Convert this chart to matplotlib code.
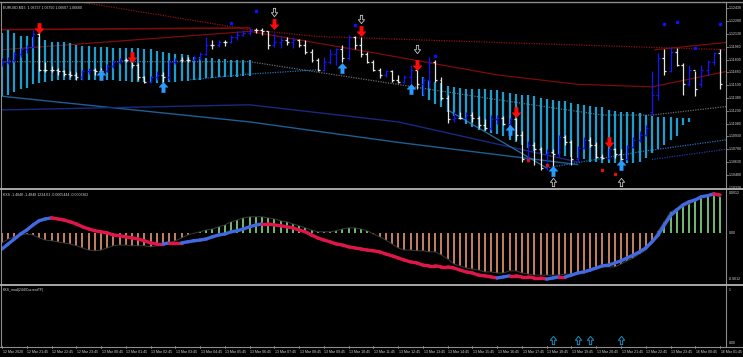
import numpy as np
import matplotlib
matplotlib.use('Agg')
import matplotlib.pyplot as plt
from matplotlib import font_manager
from matplotlib.path import Path
from matplotlib.lines import Line2D
from matplotlib.collections import LineCollection
from matplotlib.transforms import blended_transform_factory as blend

# ---------------- data ----------------
open_ = [1.1177,1.1180,1.1183,1.1189,1.1195,1.1198,1.1213,1.1171,1.1171,1.1171,
         1.1169,1.1166,1.1165,1.1162,1.1169,1.1171,1.1169,1.1169,1.1176,1.1180,
         1.1183,1.1183,1.1177,1.1162,1.1157,1.1162,1.1165,1.1162,1.1180,1.1183,
         1.1183,1.1183,1.1185,1.1189,1.1200,1.1200,1.1204,1.1204,1.1209,1.1212,
         1.1214,1.1218,1.1218,1.1216,1.1200,1.1204,1.1206,1.1204,1.1206,1.1200,
         1.1192,1.1183,1.1171,1.1180,1.1189,1.1195,1.1185,1.1209,1.1200,1.1189,
         1.1180,1.1171,1.1165,1.1169,1.1159,1.1157,1.1162,1.1171,1.1154,1.1159,
         1.1180,1.1159,1.1138,1.1113,1.1115,1.1115,1.1118,1.1115,1.1106,1.1103,
         1.1113,1.1115,1.1107,1.1113,1.1095,1.1066,1.1083,1.1078,1.1056,1.1075,
         1.1072,1.1092,1.1087,1.1066,1.1080,1.1089,1.1083,1.1069,1.1068,1.1078,
         1.1072,1.1066,1.1081,1.1089,1.1095,1.1121,1.1142,1.1185,1.1169,1.1192,
         1.1177,1.1154,1.1171,1.1154,1.1171,1.1180,1.1191]
high = [1.1185,1.1186,1.1192,1.1197,1.1200,1.1218,1.1218,1.1180,1.1176,1.1173,
        1.1171,1.1169,1.1168,1.1171,1.1173,1.1173,1.1173,1.1178,1.1183,1.1185,
        1.1185,1.1184,1.1179,1.1164,1.1164,1.1169,1.1168,1.1183,1.1185,1.1186,
        1.1186,1.1188,1.1192,1.1209,1.1206,1.1206,1.1206,1.1212,1.1216,1.1218,
        1.1220,1.1220,1.1220,1.1217,1.1214,1.1210,1.1209,1.1209,1.1207,1.1206,
        1.1195,1.1185,1.1186,1.1195,1.1197,1.1200,1.1212,1.1211,1.1209,1.1192,
        1.1183,1.1173,1.1171,1.1171,1.1165,1.1165,1.1177,1.1172,1.1162,1.1186,
        1.1182,1.1162,1.1142,1.1121,1.1121,1.1122,1.1121,1.1117,1.1113,1.1118,
        1.1118,1.1117,1.1115,1.1115,1.1099,1.1088,1.1086,1.1081,1.1078,1.1078,
        1.1095,1.1095,1.1089,1.1082,1.1092,1.1092,1.1086,1.1072,1.1079,1.1080,
        1.1078,1.1083,1.1092,1.1099,1.1106,1.1169,1.1191,1.1195,1.1198,1.1197,
        1.1179,1.1177,1.1170,1.1177,1.1183,1.1192,1.1195]
low = [1.1176,1.1178,1.1180,1.1186,1.1191,1.1197,1.1169,1.1168,1.1168,1.1165,
       1.1164,1.1163,1.1159,1.1159,1.1166,1.1165,1.1168,1.1168,1.1173,1.1178,
       1.1180,1.1173,1.1159,1.1156,1.1156,1.1159,1.1157,1.1159,1.1178,1.1180,
       1.1180,1.1182,1.1183,1.1188,1.1195,1.1198,1.1199,1.1202,1.1206,1.1210,
       1.1212,1.1214,1.1212,1.1195,1.1198,1.1197,1.1200,1.1197,1.1198,1.1189,
       1.1180,1.1169,1.1170,1.1178,1.1177,1.1180,1.1183,1.1195,1.1186,1.1179,
       1.1169,1.1161,1.1162,1.1157,1.1156,1.1156,1.1154,1.1148,1.1142,1.1150,
       1.1157,1.1136,1.1109,1.1110,1.1113,1.1113,1.1110,1.1103,1.1101,1.1101,
       1.1108,1.1106,1.1106,1.1089,1.1063,1.1063,1.1060,1.1054,1.1054,1.1058,
       1.1069,1.1083,1.1060,1.1063,1.1078,1.1081,1.1068,1.1066,1.1066,1.1068,
       1.1065,1.1065,1.1079,1.1087,1.1093,1.1118,1.1136,1.1165,1.1168,1.1176,
       1.1142,1.1152,1.1140,1.1151,1.1165,1.1177,1.1148]
close = [1.1180,1.1183,1.1189,1.1195,1.1198,1.1213,1.1171,1.1171,1.1171,1.1169,
         1.1166,1.1165,1.1162,1.1169,1.1171,1.1169,1.1169,1.1176,1.1180,1.1183,
         1.1183,1.1177,1.1162,1.1157,1.1162,1.1165,1.1162,1.1180,1.1183,1.1183,
         1.1183,1.1185,1.1189,1.1200,1.1200,1.1204,1.1204,1.1209,1.1212,1.1214,
         1.1218,1.1218,1.1216,1.1200,1.1204,1.1206,1.1204,1.1206,1.1200,1.1192,
         1.1183,1.1171,1.1180,1.1189,1.1195,1.1185,1.1209,1.1200,1.1189,1.1180,
         1.1171,1.1165,1.1169,1.1159,1.1157,1.1162,1.1171,1.1154,1.1159,1.1180,
         1.1159,1.1138,1.1113,1.1115,1.1115,1.1118,1.1115,1.1106,1.1103,1.1113,
         1.1115,1.1107,1.1113,1.1095,1.1066,1.1083,1.1078,1.1056,1.1075,1.1072,
         1.1092,1.1087,1.1066,1.1080,1.1089,1.1083,1.1069,1.1068,1.1078,1.1072,
         1.1066,1.1081,1.1089,1.1095,1.1103,1.1142,1.1185,1.1169,1.1192,1.1177,
         1.1154,1.1171,1.1148,1.1171,1.1180,1.1191,1.1154]

# cyan range histogram (upper / lower) : left block bars 0..40, right block bars 68..111
band_left_start = 0
band_left_top = [1.1214,1.1218,1.1214,1.1211,1.1210,1.1209,1.1209,1.1206,1.1204,1.1204,
                 1.1203,1.1202,1.1200,1.1199,1.1199,1.1198,1.1198,1.1198,1.1197,1.1197,
                 1.1197,1.1196,1.1196,1.1195,1.1195,1.1193,1.1192,1.1191,1.1190,1.1189,
                 1.1188,1.1186,1.1186,1.1185,1.1185,1.1184,1.1184,1.1183,1.1183,1.1183,1.1182]
band_left_bot = [1.1140,1.1142,1.1145,1.1148,1.1150,1.1154,1.1156,1.1157,1.1158,1.1159,
                 1.1159,1.1159,1.1159,1.1159,1.1159,1.1159,1.1159,1.1159,1.1159,1.1158,
                 1.1158,1.1157,1.1157,1.1157,1.1156,1.1156,1.1156,1.1157,1.1157,1.1158,
                 1.1158,1.1159,1.1159,1.1161,1.1161,1.1162,1.1162,1.1163,1.1163,1.1164,1.1164]
band_right_start = 68
band_right_top = [1.1162,1.1159,1.1157,1.1155,1.1152,1.1151,1.1150,1.1149,1.1149,1.1148,
                  1.1148,1.1147,1.1147,1.1145,1.1144,1.1143,1.1142,1.1141,1.1140,1.1138,
                  1.1137,1.1136,1.1135,1.1134,1.1132,1.1131,1.1130,1.1129,1.1128,1.1127,
                  1.1124,1.1123,1.1122,1.1121,1.1121,1.1120,1.1118,1.1117,1.1116,1.1116,
                  1.1116,1.1115,1.1115,1.1114]
band_right_bot = [1.1140,1.1136,1.1131,1.1127,1.1122,1.1117,1.1113,1.1108,1.1104,1.1101,
                  1.1099,1.1097,1.1096,1.1093,1.1089,1.1087,1.1083,1.1080,1.1076,1.1074,
                  1.1072,1.1072,1.1072,1.1070,1.1069,1.1068,1.1066,1.1063,1.1063,1.1062,
                  1.1062,1.1062,1.1062,1.1062,1.1062,1.1063,1.1068,1.1074,1.1078,1.1083,
                  1.1089,1.1094,1.1106,1.1110]

# overlay lines (bar index, price)
red_solid_x = [0, 40, 60, 80, 93, 105, 117]
red_solid_y = [1.11945, 1.1216, 1.1191, 1.1165, 1.1154, 1.1151, 1.1169]
red_dot_x = [0, 13, 40, 51, 80, 117]
red_dot_y = [1.1265, 1.1250, 1.1218, 1.1210, 1.1203, 1.11945]
red_flat_l_x = [0, 40]
red_flat_l_y = [1.1218, 1.1220]
red_flat_r_x = [105.5, 117]
red_flat_r_y = [1.11945, 1.1203]
gray_dot_x = [0, 40, 80, 97, 105, 117]
gray_dot_y = [1.11805, 1.11805, 1.1136, 1.1118, 1.1118, 1.1128]
blue_dot1_x = [30, 40, 51]
blue_dot1_y = [1.1159, 1.1166, 1.1171]
blue_dot2_x = [88, 103, 117]
blue_dot2_y = [1.1056, 1.1075, 1.1089]
trend_x = [0, 40, 64, 93]
trend_y = [1.1140, 1.1110, 1.1086, 1.1060]
navy_x = [0, 40, 64, 93]
navy_y = [1.1124, 1.1130, 1.1110, 1.1063]
steep_x = [72, 88]
steep_y = [1.1124, 1.1056]
navy_dot_x = [105, 117]
navy_dot_y = [1.1066, 1.1078]

# signals
sell_x = [6, 21, 44, 58, 67, 83, 98]
sell_y = [1.1220, 1.1186, 1.1225, 1.1216, 1.1177, 1.1122, 1.1086]
buy_x = [16, 26, 55, 66, 82, 89, 100]
buy_y = [1.1165, 1.1151, 1.1173, 1.1148, 1.1101, 1.1052, 1.1060]
hollow_dn_x = [44, 58, 67]
hollow_dn_y = [1.1239, 1.1231, 1.1195]
hollow_up_x = [89, 100]
hollow_up_y = [1.1040, 1.1040]
bdot_x = [37, 41, 57, 70, 107, 109, 112, 116]
bdot_y = [1.1226, 1.1240, 1.1223, 1.1187, 1.1225, 1.1227, 1.1197, 1.1225]
rdot_x = [85, 88, 97, 99]
rdot_y = [1.1065, 1.1059, 1.1054, 1.1049]

# KXS histogram and signal line
hist = [-0.00028,-0.00017,-0.00011,-0.00006,-0.00003,-0.00006,-0.00014,-0.00020,-0.00022,-0.00025,
        -0.00028,-0.00031,-0.00036,-0.00042,-0.00048,-0.00050,-0.00048,-0.00042,-0.00036,-0.00034,
        -0.00034,-0.00036,-0.00036,-0.00036,-0.00039,-0.00036,-0.00034,-0.00028,-0.00022,-0.00014,
        -0.00006,-0.00001,0.00003,0.00008,0.00011,0.00017,0.00022,0.00031,0.00036,0.00042,
        0.00045,0.00045,0.00045,0.00042,0.00039,0.00034,0.00031,0.00025,0.00020,0.00014,
        0.00008,0.00003,0.00003,0.00003,0.00006,0.00011,0.00014,0.00014,0.00011,0.00006,
        -0.00003,-0.00011,-0.00020,-0.00031,-0.00042,-0.00048,-0.00048,-0.00050,-0.00050,-0.00053,
        -0.00053,-0.00062,-0.00073,-0.00087,-0.00092,-0.00098,-0.00101,-0.00104,-0.00109,-0.00109,
        -0.00112,-0.00112,-0.00106,-0.00106,-0.00112,-0.00115,-0.00118,-0.00118,-0.00118,-0.00118,
        -0.00118,-0.00115,-0.00115,-0.00112,-0.00106,-0.00101,-0.00095,-0.00095,-0.00095,-0.00095,
        -0.00087,-0.00078,-0.00070,-0.00059,-0.00048,-0.00028,0.00006,0.00031,0.00059,0.00067,
        0.00073,0.00081,0.00090,0.00098,0.00104,0.00106,0.00101]
signal = [-0.00045,-0.00031,-0.00017,-0.00003,0.00008,0.00022,0.00034,0.00039,0.00042,0.00039,
          0.00036,0.00031,0.00025,0.00017,0.00011,0.00006,0.00003,0.00000,-0.00006,-0.00008,
          -0.00011,-0.00014,-0.00017,-0.00022,-0.00028,-0.00031,-0.00031,-0.00028,-0.00028,-0.00028,
          -0.00025,-0.00022,-0.00020,-0.00017,-0.00011,-0.00006,-0.00003,0.00003,0.00006,0.00011,
          0.00017,0.00022,0.00025,0.00025,0.00022,0.00020,0.00017,0.00014,0.00008,0.00003,
          -0.00006,-0.00014,-0.00020,-0.00025,-0.00031,-0.00034,-0.00039,-0.00042,-0.00045,-0.00048,
          -0.00050,-0.00053,-0.00059,-0.00064,-0.00070,-0.00076,-0.00081,-0.00084,-0.00090,-0.00092,
          -0.00092,-0.00095,-0.00095,-0.00098,-0.00104,-0.00109,-0.00112,-0.00118,-0.00120,-0.00123,
          -0.00126,-0.00123,-0.00120,-0.00120,-0.00123,-0.00123,-0.00126,-0.00126,-0.00129,-0.00126,
          -0.00123,-0.00123,-0.00118,-0.00112,-0.00109,-0.00104,-0.00098,-0.00092,-0.00090,-0.00084,
          -0.00078,-0.00070,-0.00062,-0.00053,-0.00042,-0.00025,-0.00006,0.00022,0.00048,0.00064,
          0.00078,0.00087,0.00092,0.00101,0.00104,0.00109,0.00106]

mod_arrow_x = [89, 93, 95, 100]
mod_arrow_y = [0, 0, 0, 0]

price_labels = ['1.12430','1.12280','1.12130','1.11980','1.11830','1.11680','1.11530','1.11380',
                '1.11230','1.11080','1.10930','1.10780','1.10630','1.10480','1.10330']
time_labels = ['12 Mar 2020','12 Mar 21:45','12 Mar 22:45','12 Mar 23:45','13 Mar 00:45',
               '13 Mar 01:45','13 Mar 02:45','13 Mar 03:45','13 Mar 04:45','13 Mar 05:45',
               '13 Mar 06:45','13 Mar 07:45','13 Mar 08:45','13 Mar 09:45','13 Mar 10:45',
               '13 Mar 11:45','13 Mar 12:45','13 Mar 13:45','13 Mar 14:45','13 Mar 15:45',
               '13 Mar 16:45','13 Mar 17:45','13 Mar 18:45','13 Mar 19:45','13 Mar 20:45',
               '13 Mar 21:45','13 Mar 22:45','13 Mar 23:45','16 Mar 00:45','16 Mar 01:45']
header_main = 'EURUSD,M15  1.06737 1.06750 1.06607 1.06680'
header_kxs = 'KXS -1.4848 -1.4848 1234.01 -0.0005444 -0.0006362'
header_mod = 'KXS_mod(244/CurrentTF)'

# ---------------- figure ----------------
W, H, DPI = 743, 357, 100
available = {f.name for f in font_manager.fontManager.ttflist}
FAM = next((f for f in ['Liberation Sans Narrow', 'DejaVu Sans Condensed', 'Liberation Sans', 'DejaVu Sans']
            if f in available), 'DejaVu Sans')
plt.rcParams['font.family'] = [FAM, 'DejaVu Sans']
fig = plt.figure(figsize=(W / DPI, H / DPI), dpi=DPI, facecolor='black')

def fit_size(sample, target_px, base=4.0):
    t = fig.text(0, 0, sample, fontsize=base)
    w = t.get_window_extent(fig.canvas.get_renderer()).width
    t.remove()
    return base * target_px / w

FS = min(fit_size('12 Mar 21:45', 21.0), fit_size('1.12430', 13.0))

def px_axes(x0, y0, x1, y1):
    a = fig.add_axes([x0 / W, 1 - y1 / H, (x1 - x0) / W, (y1 - y0) / H])
    a.set_facecolor('black')
    a.set_axis_off()
    return a

AX_L, AX_R = 1, 726
SP = 6.19  # pixels per bar
XLIM = ((AX_L - 2) / SP, (AX_R - 2) / SP)

ax = px_axes(AX_L, 3, AX_R, 188)
ax1 = px_axes(AX_L, 191, AX_R, 283)
ax2 = px_axes(AX_L, 286, AX_R, 346)
for a in (ax, ax1, ax2):
    a.set_xlim(*XLIM)
ax.set_ylim(1.10326, 1.12492)
ax1.set_ylim(-0.00140, 0.00117)
ax2.set_ylim(-0.115, 1.038)

def fline(x0, y0, x1, y1, color='#8c8c8c', lw=0.8):
    fig.add_artist(Line2D([x0 / W, x1 / W], [1 - y0 / H, 1 - y1 / H], color=color, lw=lw,
                          transform=fig.transFigure))

# frame
fline(0, 1.5, W, 1.5, '#8c8c8c', 1.0)
fline(0.5, 1.5, 0.5, 346, '#8c8c8c', 0.8)
fline(726, 1.5, 726, 346, '#8c8c8c', 0.8)
fline(0, 189, W, 189, '#a8a8a8', 1.4)
fline(0, 284.5, W, 284.5, '#a8a8a8', 1.4)
fline(0, 346.5, W, 346.5, '#8c8c8c', 0.8)

# ---------------- main chart ----------------
o = np.array(open_); h = np.array(high); l = np.array(low); c = np.array(close)
idx = np.arange(len(c))

ax.plot(red_dot_x, red_dot_y, color='#8a1414', lw=0.9, ls=(0, (1, 1)))
ax.plot(red_solid_x, red_solid_y, color='#7c0c0c', lw=0.9)
ax.plot(red_flat_l_x, red_flat_l_y, color='#7c0c0c', lw=1.2)
ax.plot(red_flat_r_x, red_flat_r_y, color='#7c0c0c', lw=0.9)
ax.plot(gray_dot_x, gray_dot_y, color='#6a6a6a', lw=0.9, ls=(0, (1, 1)))
ax.plot(blue_dot1_x, blue_dot1_y, color='#2470b8', lw=0.9, ls=(0, (1, 1)))
ax.plot(blue_dot2_x, blue_dot2_y, color='#2470b8', lw=0.9, ls=(0, (1, 1)))
ax.plot(trend_x, trend_y, color='#1d5f93', lw=1.0)
ax.plot(navy_x, navy_y, color='#162a80', lw=1.0)
ax.plot(steep_x, steep_y, color='#2c6a9a', lw=0.9)
ax.plot(navy_dot_x, navy_dot_y, color='#1e3aa0', lw=0.9, ls=(0, (1, 1)))

bl = np.arange(band_left_start, band_left_start + len(band_left_top))
br = np.arange(band_right_start, band_right_start + len(band_right_top))
ax.vlines(bl, band_left_bot, band_left_top, color='#1c9dcf', lw=1.6)
ax.vlines(br, band_right_bot, band_right_top, color='#1c9dcf', lw=1.6)

up = c > o
for col, m in (('#1414ff', up), ('#e6e6e6', ~up)):
    ax.vlines(idx[m], l[m], h[m], color=col, lw=0.9)
    ax.hlines(o[m], idx[m] - 0.32, idx[m], color=col, lw=0.9)
    ax.hlines(c[m], idx[m], idx[m] + 0.32, color=col, lw=0.9)

def arrow_path(direction, head=0.85, stem=0.32):
    v = [(0, 1), (head, 0.05), (stem, 0.05), (stem, -1), (-stem, -1), (-stem, 0.05), (-head, 0.05), (0, 1)]
    if direction < 0:
        v = [(x, -y) for x, y in v]
    codes = [Path.MOVETO] + [Path.LINETO] * 6 + [Path.CLOSEPOLY]
    return Path(v, codes)

ax.plot(sell_x, sell_y, ls='none', marker=arrow_path(-1), ms=7.5, mfc='#ff0a0a', mec='#ff0a0a', mew=0.3)
ax.plot(buy_x, buy_y, ls='none', marker=arrow_path(1), ms=7.5, mfc='#2a9bff', mec='#2a9bff', mew=0.3)
ax.plot(hollow_dn_x, hollow_dn_y, ls='none', marker=arrow_path(-1, 0.75, 0.28), ms=6,
        mfc='black', mec='#c8c8c8', mew=0.6)
ax.plot(hollow_up_x, hollow_up_y, ls='none', marker=arrow_path(1, 0.75, 0.28), ms=6,
        mfc='black', mec='#c8c8c8', mew=0.6)
ax.plot(bdot_x, bdot_y, ls='none', marker='s', ms=1.8, color='#1010ff')
ax.plot(rdot_x, rdot_y, ls='none', marker='s', ms=1.6, color='#e01010')

# ---------------- KXS window ----------------
hv = np.array(hist); sv = np.array(signal); hx = np.arange(len(hv))
pos = hv >= 0
ax1.vlines(hx[pos], 0, hv[pos], color='#90ee90', lw=1.1)
ax1.vlines(hx[~pos], 0, hv[~pos], color='#f8a47c', lw=1.1)
ax1.plot(hx, hv, color='#3a3a3a', lw=0.7)
segs = [[(i - 1, sv[i - 1]), (i, sv[i])] for i in range(1, len(sv))]
cols = ['#4169e1' if sv[i] > sv[i - 1] else '#e0164a' for i in range(1, len(sv))]
ax1.add_collection(LineCollection(segs, colors=cols, linewidths=2.4, capstyle='round'))

# ---------------- KXS_mod window ----------------
ax2.plot(mod_arrow_x, mod_arrow_y, ls='none', marker=arrow_path(1, 0.75, 0.28), ms=6,
         mfc='black', mec='#1f8cc0', mew=0.7)

# ---------------- texts ----------------
TXT = '#d8d8d8'
ax.text(0.003, 0.988, header_main, transform=ax.transAxes, fontsize=FS, color=TXT, va='top', ha='left')
ax1.text(0.003, 0.975, header_kxs, transform=ax1.transAxes, fontsize=FS, color=TXT, va='top', ha='left')
ax2.text(0.003, 0.97, header_mod, transform=ax2.transAxes, fontsize=FS, color=TXT, va='top', ha='left')

tr = blend(ax.transAxes, ax.transData)
for lab in price_labels:
    v = float(lab)
    ax.text(1.0035, v, lab, transform=tr, fontsize=FS, color=TXT, va='center', ha='left', clip_on=False)
    ax.plot([1.0, 1.003], [v, v], transform=tr, color='#8c8c8c', lw=0.6, clip_on=False)

tr1 = blend(ax1.transAxes, ax1.transData)
for lab, v in (('0.0012', 0.00112), ('0.00', 0.0), ('-0.0012', -0.00128)):
    ax1.text(1.0035, v, lab, transform=tr1, fontsize=FS, color=TXT, va='center', ha='left', clip_on=False)

tr2 = blend(ax2.transAxes, ax2.transData)
for lab, v in (('1', 0.97), ('0.00', -0.05)):
    ax2.text(1.0035, v, lab, transform=tr2, fontsize=FS, color=TXT, va='center', ha='left', clip_on=False)

trt = blend(ax2.transData, ax2.transAxes)
for k, lab in enumerate(time_labels):
    xb = 4 * k
    ax2.plot([xb, xb], [0.0, -0.04], transform=trt, color='#8c8c8c', lw=0.6, clip_on=False)
    ax2.text(xb + 0.1, -0.07, lab, transform=trt, fontsize=FS, color=TXT, va='top', ha='left',
             clip_on=False)

fig.savefig('out.png', dpi=DPI, facecolor='black')
